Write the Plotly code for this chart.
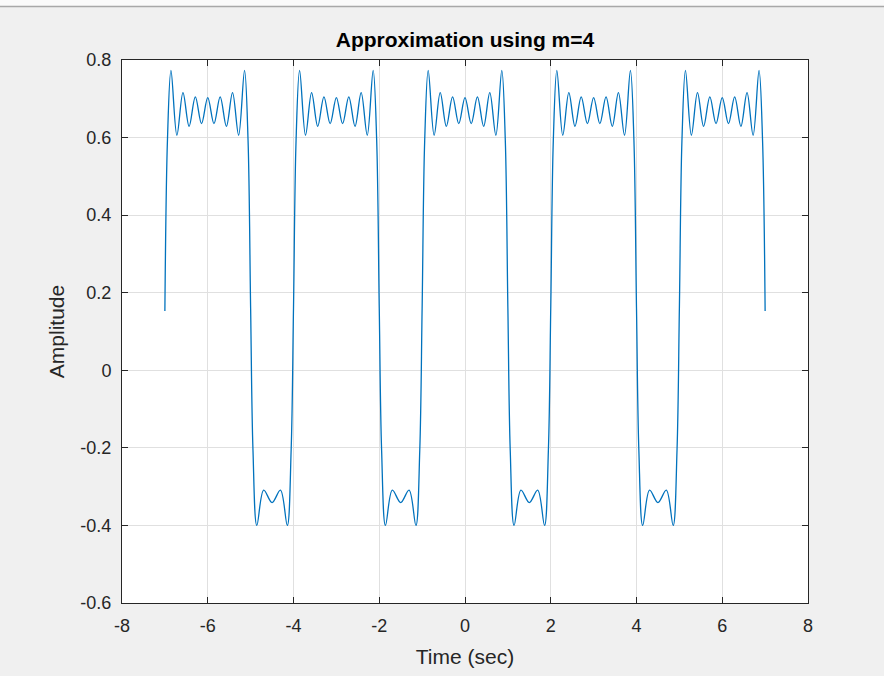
import plotly.graph_objects as go

# ---- values ----
pulse_centers = [-6, -3, 0, 3, 6]           # centres of the high plateaus (sec)
dip_centers = [-4.5, -1.5, 1.5, 4.5]        # centres of the low plateaus (sec)

# high plateau ripple extremes, relative to a pulse centre
plateau_offsets = [-0.858, -0.72, -0.578, -0.435, -0.29, -0.145, 0.0,
                   0.145, 0.29, 0.435, 0.578, 0.72, 0.858]
plateau_values = [0.773, 0.606, 0.716, 0.629, 0.705, 0.636, 0.703,
                  0.636, 0.705, 0.629, 0.716, 0.606, 0.773]

# falling edge after a pulse centre / rising edge before one
fall_offsets = [0.94, 1.0, 1.055]
fall_values = [0.593, 0.16, -0.206]
rise_offsets = [-1.055, -1.0, -0.94]
rise_values = [-0.206, 0.16, 0.593]

# low plateau extremes, relative to a dip centre
dip_offsets = [-0.355, -0.195, 0.0, 0.195, 0.355]
dip_values = [-0.40, -0.309, -0.341, -0.309, -0.40]

start_time, start_value = -7.0, 0.153
end_time, end_value = 7.0, 0.153

x_ticks = [-8, -6, -4, -2, 0, 2, 4, 6, 8]
y_ticks = [-0.6, -0.4, -0.2, 0, 0.2, 0.4, 0.6, 0.8]

# ---- assemble the curve from the read pieces ----
t, a = [start_time], [start_value]
for i, c in enumerate(pulse_centers):
    if i == 0:
        t.append(c + rise_offsets[-1]); a.append(rise_values[-1])
    else:
        t += [c + o for o in rise_offsets]; a += rise_values
    t += [c + o for o in plateau_offsets]; a += plateau_values
    if i < len(dip_centers):
        t += [c + o for o in fall_offsets]; a += fall_values
        d = dip_centers[i]
        t += [d + o for o in dip_offsets]; a += dip_values
    else:
        t.append(c + fall_offsets[0]); a.append(fall_values[0])
t.append(end_time); a.append(end_value)

fig = go.Figure()
fig.add_trace(go.Scatter(
    x=t, y=a, mode="lines",
    line=dict(color="#0072BD", width=1.3, shape="spline", smoothing=1.0),
    showlegend=False, hoverinfo="x+y"))

axis_common = dict(
    showline=True, linecolor="#262626", linewidth=1, mirror="ticks",
    ticks="inside", ticklen=6, tickcolor="#262626", tickwidth=1,
    showgrid=True, gridcolor="#e0e0e0", gridwidth=1, zeroline=False,
    tickfont=dict(family="Liberation Sans, Arial", size=18, color="#262626"),
)

fig.update_layout(
    width=884, height=676,
    margin=dict(l=122, r=76, t=60, b=73),
    paper_bgcolor="#f0f0f0", plot_bgcolor="#ffffff",
    title=dict(text="<b>Approximation using m=4</b>",
               font=dict(family="Liberation Sans, Arial", size=21, color="#000000"),
               x=(465) / 884, xanchor="center", xref="container",
               y=1 - 39.5 / 676, yanchor="middle", yref="container"),
    xaxis=dict(range=[-8, 8], tickvals=x_ticks,
               ticktext=[str(v) for v in x_ticks],
               title=dict(text="Time (sec)", standoff=14,
                          font=dict(family="Liberation Sans, Arial", size=21, color="#262626")),
               ticklabelstandoff=6, **axis_common),
    yaxis=dict(range=[-0.6, 0.8], tickvals=y_ticks,
               ticktext=["-0.6", "-0.4", "-0.2", "0", "0.2", "0.4", "0.6", "0.8"],
               title=dict(text="Amplitude", standoff=10,
                          font=dict(family="Liberation Sans, Arial", size=21, color="#262626")),
               ticklabelstandoff=6, **axis_common),
    shapes=[
        dict(type="rect", xref="paper", yref="paper",
             x0=-122 / 686, x1=1 + 76 / 686, y0=1 + (60 - 6) / 543, y1=1 + 60 / 543,
             fillcolor="#fafafa", line=dict(width=0), layer="below"),
        dict(type="line", xref="paper", yref="paper",
             x0=-122 / 686, x1=1 + 76 / 686, y0=1 + (60 - 6.5) / 543, y1=1 + (60 - 6.5) / 543,
             line=dict(color="#a8a8a8", width=1.5)),
    ],
)

fig.write_html("out.html")
